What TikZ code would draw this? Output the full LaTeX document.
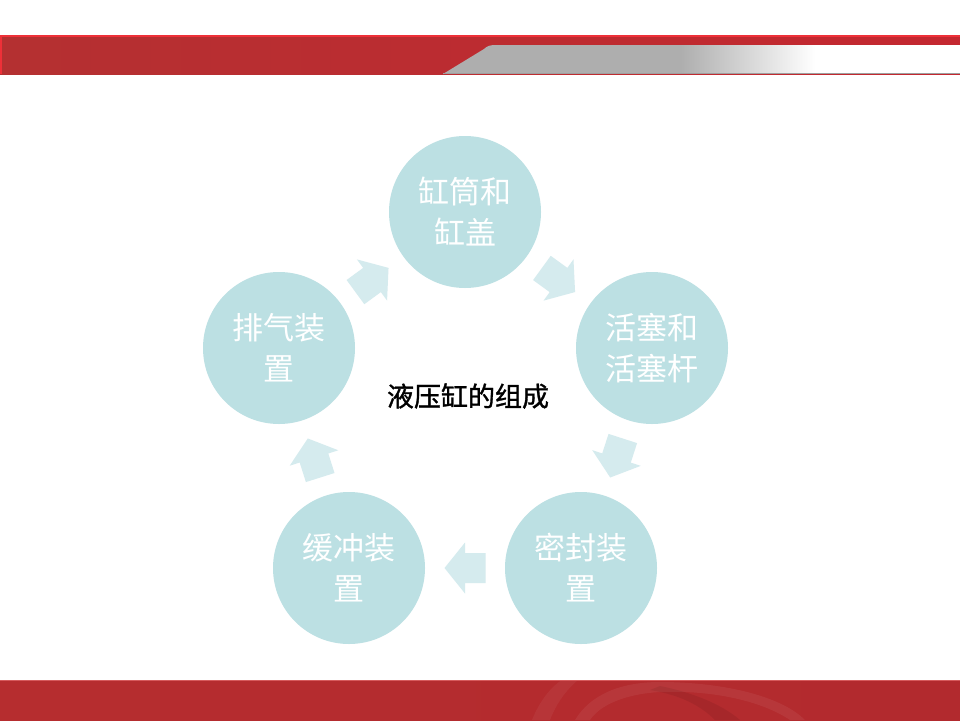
\documentclass[tikz,border=0pt]{standalone}
\usepackage{fontspec}
\newfontfamily\cjk{Noto Sans CJK SC}
\newfontfamily\cjkbold[FakeBold=1.2]{Noto Sans CJK SC}
\usetikzlibrary{calc}
\definecolor{bubblefill}{RGB}{188,224,227}
\definecolor{arrowfill}{RGB}{213,235,238}
\definecolor{redA}{RGB}{180,48,49}
\definecolor{redB}{RGB}{216,48,56}
\definecolor{redC}{RGB}{196,40,48}
\definecolor{redEdge}{RGB}{238,48,56}
\definecolor{footA}{RGB}{182,45,47}
\definecolor{footB}{RGB}{218,50,57}
\definecolor{footC}{RGB}{178,42,46}
\definecolor{footLine}{RGB}{214,90,92}
\definecolor{bandgray}{RGB}{174,174,174}
\pgfdeclarehorizontalshading{grayfade}{100bp}{color(0bp)=(bandgray); color(48bp)=(bandgray); color(61bp)=(white); color(100bp)=(white)}
\newcommand\flowarrow[3]{%
  \begin{scope}[shift={($(#1)!0.5!(#2)$)}, rotate=#3]
    \fill[flowstyle] (20.5,0) -- (0,25.5) -- (0,15) -- (-20.5,15) -- (-20.5,-15) -- (0,-15) -- (0,-25.5) -- cycle;
  \end{scope}}
\tikzset{
  bubble/.style={circle, fill=bubblefill, minimum size=152pt, inner sep=0pt, text=white,
    font=\cjk\fontsize{31}{41}\selectfont, align=center},
  flowstyle/.style={fill=arrowfill},
  titletext/.style={font=\cjkbold\fontsize{27}{30}\selectfont, text=black, inner sep=0pt}
}
\begin{document}
\begin{tikzpicture}[x=1pt,y=-1pt]
\useasboundingbox (0,0) rectangle (960,720);
\fill[white] (0,0) rectangle (960,720);
% header band
\shade[left color=redA, middle color=redB, right color=redC] (0,35) rectangle (960,74);
\shade[shading=grayfade] (443,74) -- (484,49) .. controls (487,46) and (490,45) .. (496,45) -- (960,45) -- (960,73) -- cycle;
\draw[gray!75, line width=1pt] (443,73.5) -- (960,73.5);
\draw[redEdge, line width=1.5pt] (0.75,74) -- (0.75,35.75) -- (960,35.75);
% footer band
\shade[left color=footA, middle color=footB, right color=footC] (0,680) rectangle (960,720);
\fill[white, opacity=0.05] (532,720) .. controls (540,700) and (552,686) .. (562,680) -- (578,680) .. controls (566,690) and (556,704) .. (550,720) -- cycle;
\fill[white, opacity=0.06] (575,720) .. controls (590,695) and (620,682) .. (660,682) .. controls (720,682) and (780,695) .. (805,720) -- (790,720) .. controls (760,700) and (710,690) .. (660,692) .. controls (625,694) and (600,705) .. (590,720) -- cycle;
\fill[black, opacity=0.07] (650,690) .. controls (680,695) and (700,705) .. (715,720) -- (740,720) .. controls (720,703) and (690,692) .. (660,686) -- cycle;
\draw[footLine, line width=1pt] (0,680.5) -- (960,680.5);
% bubbles
\node[bubble] (top) at (465,212) {缸筒和\\缸盖};
\node[bubble] (right) at (652,348) {活塞和\\活塞杆};
\node[bubble] (bright) at (581,568) {密封装\\置};
\node[bubble] (bleft) at (349,568) {缓冲装\\置};
\node[bubble] (left) at (279,348) {排气装\\置};
\node[titletext] (title) at (468,396) {液压缸的组成};
% arrows
\flowarrow{top}{right}{-36}
\flowarrow{right}{bright}{-107.9}
\flowarrow{bright}{bleft}{180}
\flowarrow{bleft}{left}{107.6}
\flowarrow{left}{top}{36.2}
\end{tikzpicture}
\end{document}
